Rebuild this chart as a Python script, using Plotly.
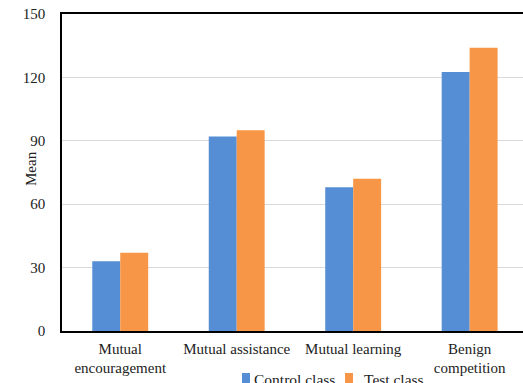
import plotly.graph_objects as go

categories = ["Mutual<br>encouragement", "Mutual assistance", "Mutual learning", "Benign<br>competition"]
control_class = [33, 92, 68, 122.6]
test_class = [37, 95, 72, 134]
y_ticks = [0, 30, 60, 90, 120, 150]
series_names = ["Control class", "Test class"]
series_colors = ["#558ED5", "#F79646"]

FONT = "Liberation Serif"
W, H = 523, 383
L, R, T, B = 62, 0, 14, 52
PW, PH = W - L - R, H - T - B


def px_x(px):
    return (px - L) / PW


def px_y(py):
    return (H - B - py) / PH


fig = go.Figure()
for name, vals, color in zip(series_names, [control_class, test_class], series_colors):
    fig.add_trace(go.Bar(name=name, x=categories, y=vals,
                         marker=dict(color=color, line=dict(width=0))))

fig.update_layout(
    width=W, height=H,
    margin=dict(l=L, r=R, t=T, b=B, autoexpand=False),
    paper_bgcolor="white", plot_bgcolor="white",
    font=dict(family=FONT, size=14, color="#222"),
    barmode="group", bargap=0.52, bargroupgap=0,
    showlegend=False,
)

# chart title (sits above the visible area)
fig.add_annotation(text="<b>Comparison results of learning</b>", xref="paper", yref="paper",
                   x=px_x(307), y=1.0, yshift=11.5, yanchor="bottom", showarrow=False,
                   font=dict(size=18, family=FONT, color="#000"))

# y axis title
fig.add_annotation(text="Mean", textangle=-90, xref="paper", yref="paper",
                   x=px_x(21), y=px_y(169), showarrow=False,
                   font=dict(size=15, family=FONT, color="#222"))

# legend: colour keys and labels
legend_keys = [(242, 250, 252), (345, 353, 362)]
for (x0, x1, tx), name, color in zip(legend_keys, series_names, series_colors):
    fig.add_shape(type="rect", xref="paper", yref="paper",
                  x0=px_x(x0), x1=px_x(x1), y0=px_y(383), y1=px_y(373),
                  fillcolor=color, line=dict(width=0))
    fig.add_annotation(text=name, xref="paper", yref="paper", x=px_x(tx), y=px_y(379),
                       xanchor="left", yanchor="middle", showarrow=False,
                       font=dict(size=15.5, family=FONT, color="#222"))

fig.update_xaxes(range=[-0.5, 3.458], showline=True, linecolor="black", linewidth=1.5,
                 mirror=True, ticks="", showgrid=False, automargin=False,
                 ticklabelstandoff=3, tickfont=dict(size=15, family=FONT))
fig.update_yaxes(range=[0, 150], tickvals=y_ticks, showline=True, linecolor="black",
                 linewidth=1.5, showgrid=True, gridcolor="#D9D9D9", gridwidth=1,
                 ticks="", ticklabelstandoff=12, tickfont=dict(size=15, family=FONT),
                 automargin=False, zeroline=False)

fig.write_html("out.html")
